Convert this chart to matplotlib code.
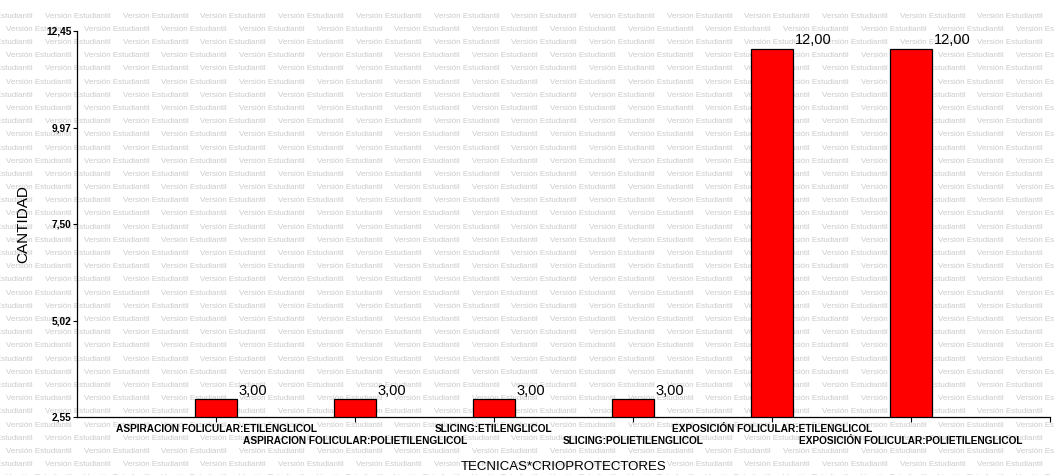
import matplotlib.pyplot as plt
import numpy as np

plt.rcParams['font.family'] = ['Liberation Sans', 'DejaVu Sans']

# conteo por combinación técnica * crioprotector
categorias = [
    'ASPIRACION FOLICULAR:ETILENGLICOL',
    'ASPIRACION FOLICULAR:POLIETILENGLICOL',
    'SLICING:ETILENGLICOL',
    'SLICING:POLIETILENGLICOL',
    'EXPOSICIÓN FOLICULAR:ETILENGLICOL',
    'EXPOSICIÓN FOLICULAR:POLIETILENGLICOL',
]
cantidad = [3.00, 3.00, 3.00, 3.00, 12.00, 12.00]
y_ticks = [2.55, 5.02, 7.50, 9.97, 12.45]

W, H = 1054, 475
fig = plt.figure(figsize=(W / 100, H / 100), dpi=100)
ax = fig.add_axes([77 / W, (H - 417) / H, 973 / W, 386 / H])
ax.patch.set_visible(False)

# marca de agua de la versión estudiantil, por detrás de los ejes
marca = 'Versión Estudiantil'
paso_x, paso_y = 77.7, 13.2
fila = 0
y = 16.0
while y < H + 5:
    x0 = 45.0 if fila % 2 == 0 else 6.0
    x = x0 - paso_x
    while x < W:
        fig.text(x / W, 1 - y / H, marca, fontsize=5.8, color='#cbcbcb',
                 ha='left', va='center', zorder=-1)
        x += paso_x
    y += paso_y
    fila += 1

pos = np.arange(1, len(categorias) + 1)
ax.bar(pos, cantidad, width=0.3, color='#ff0000', edgecolor='black',
       linewidth=0.9, zorder=2)

for p, v in zip(pos, cantidad):
    ax.annotate(f'{v:.2f}'.replace('.', ','), (p + 0.15, v),
                xytext=(1.5, 3), textcoords='offset points',
                ha='left', va='baseline', fontsize=10.5)

ax.set_xlim(0, 7)
ax.set_ylim(y_ticks[0], y_ticks[-1])

ax.set_yticks(y_ticks)
ax.set_yticklabels([f'{t:.2f}'.replace('.', ',') for t in y_ticks],
                   fontsize=7.3, fontweight='bold')
ax.set_xticks(pos)
ax.set_xticklabels([c if i % 2 == 0 else '\n' + c for i, c in enumerate(categorias)],
                   fontsize=7.3, fontweight='bold', linespacing=1.25)
ax.set_xticks([7], minor=True)

ax.tick_params(axis='y', length=3, width=0.8, pad=1, direction='out')
ax.tick_params(axis='x', which='both', length=3.5, width=0.8, pad=1.5, direction='out')

for s in ('top', 'right'):
    ax.spines[s].set_visible(False)
for s in ('left', 'bottom'):
    ax.spines[s].set_linewidth(0.9)

ax.set_ylabel('CANTIDAD', fontsize=11)
ax.yaxis.set_label_coords(-0.0555, 0.5)
ax.set_xlabel('TECNICAS*CRIOPROTECTORES', fontsize=9.5)
ax.xaxis.set_label_coords(0.5, -0.13)
ax.xaxis.label.set_va('center')
ax.yaxis.label.set_va('center')

fig.savefig('out.png', dpi=100)
